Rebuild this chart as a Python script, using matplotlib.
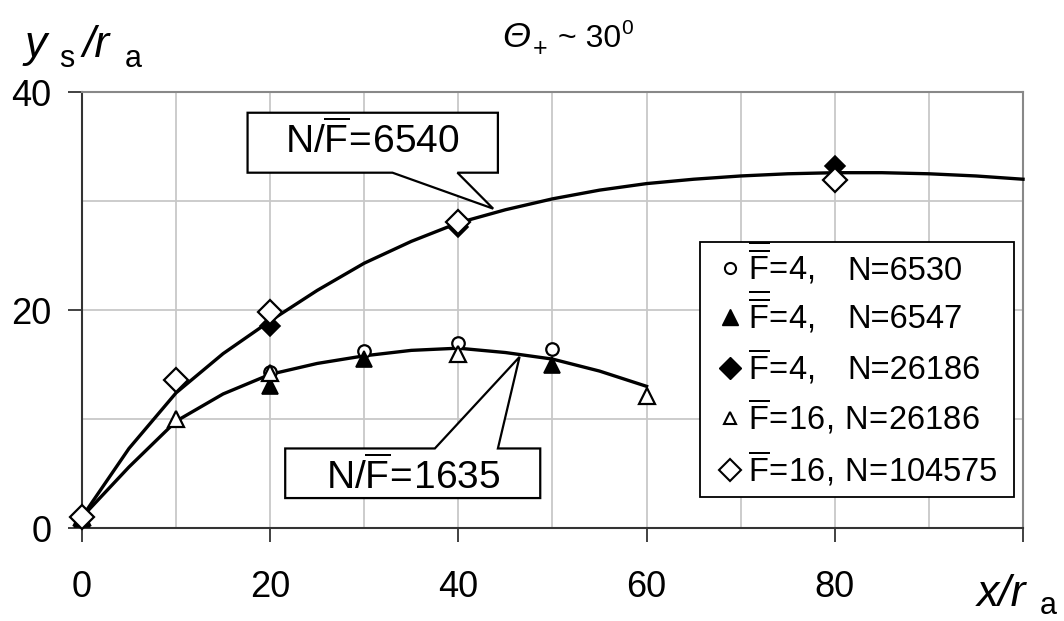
import matplotlib
matplotlib.use("Agg")
import matplotlib.pyplot as plt
from matplotlib.patches import Polygon, Rectangle

plt.rcParams['font.family'] = ['Liberation Sans', 'DejaVu Sans']
plt.rcParams['mathtext.fontset'] = 'custom'
plt.rcParams['mathtext.rm'] = 'Liberation Sans'
plt.rcParams['mathtext.it'] = 'Liberation Sans:italic'
plt.rcParams['mathtext.bf'] = 'Liberation Sans:bold'

# ---- data ----
curve_hi_x = [0, 5, 10, 15, 20, 25, 30, 35, 40, 45, 50, 55, 60, 65, 70, 75, 80, 85, 90, 95, 100]
curve_hi_y = [1.0, 7.3, 12.4, 16.0, 19.0, 21.8, 24.3, 26.3, 28.0, 29.2, 30.2, 31.0, 31.6, 32.0,
              32.3, 32.5, 32.6, 32.6, 32.5, 32.3, 32.0]
curve_lo_x = [0, 5, 10, 15, 20, 25, 30, 35, 40, 45, 50, 55, 60]
curve_lo_y = [1.0, 5.6, 9.8, 12.3, 14.1, 15.1, 15.8, 16.3, 16.5, 16.1, 15.5, 14.4, 13.0]

s1_x = [0, 20, 30, 40, 50]          # F=4, N=6530 (open circle)
s1_y = [1.0, 14.3, 16.2, 17.0, 16.4]
s2_x = [0, 20, 30, 50]              # F=4, N=6547 (filled triangle)
s2_y = [0.8, 13.0, 15.5, 15.0]
s3_x = [0, 20, 40, 80]              # F=4, N=26186 (filled diamond)
s3_y = [1.0, 18.5, 27.6, 33.2]
s4_x = [0, 10, 20, 40, 60]          # F=16, N=26186 (open triangle)
s4_y = [1.0, 10.0, 14.2, 16.0, 12.1]
s5_x = [0, 10, 20, 40, 80]          # F=16, N=104575 (open diamond)
s5_y = [1.0, 13.6, 19.8, 28.1, 31.9]

legend_F = [r"$\overline{\overline{\mathrm{F}}}\!=\!\mathrm{4,}$",
            r"$\overline{\overline{\mathrm{F}}}\!=\!\mathrm{4,}$",
            r"$\overline{\mathrm{F}}\!=\!\mathrm{4,}$",
            r"$\overline{\mathrm{F}}\!=\!\mathrm{16,}\!\ \mathrm{N}\!=\!\mathrm{26186}$",
            r"$\overline{\mathrm{F}}\!=\!\mathrm{16,}\!\ \mathrm{N}\!=\!\mathrm{104575}$"]
legend_N = ["N=6530", "N=6547", "N=26186", "", ""]
label_hi = r"$\mathrm{N/}\overline{\mathrm{F}}\!=\!\mathrm{6540}$"
label_lo = r"$\mathrm{N/}\overline{\mathrm{F}}\!=\!\mathrm{1635}$"

xticks = [0, 20, 40, 60, 80, 100]
xticklabels = ["0", "20", "40", "60", "80", ""]
yticks = [0, 20, 40]

# ---- figure ----
fig = plt.figure(figsize=(10.64, 6.21), dpi=100)
ax = fig.add_axes([0.077, 0.1497, 0.8845, 0.7021])
ax.set_xlim(0, 100)
ax.set_ylim(0, 40)

ax.set_xticks(xticks)
ax.set_xticklabels(xticklabels)
ax.set_yticks(yticks)
ax.set_xticks(range(10, 100, 20), minor=True)
ax.set_yticks([10, 30], minor=True)
ax.tick_params(axis='x', which='major', direction='out', length=10, width=1.3,
               labelsize=26, pad=20, color='#333333')
ax.tick_params(axis='y', which='major', direction='out', length=10, width=1.3,
               labelsize=26, pad=12, color='#333333')
ax.tick_params(axis='both', which='minor', length=0)
ax.grid(True, which='both', color='#c8c8c8', linewidth=1.3)
ax.set_axisbelow(True)
for s in ['left', 'bottom']:
    ax.spines[s].set_color('#333333')
    ax.spines[s].set_linewidth(1.5)
for s in ['top', 'right']:
    ax.spines[s].set_color('#888888')
    ax.spines[s].set_linewidth(1.5)

# curves
ax.plot(curve_hi_x, curve_hi_y, color='black', lw=2.4, zorder=3, clip_on=False)
ax.plot(curve_lo_x, curve_lo_y, color='black', lw=2.4, zorder=3)

# markers
ax.plot(s1_x, s1_y, 'o', ms=9, mfc='white', mec='black', mew=1.6, zorder=5, clip_on=False)
ax.plot(s2_x, s2_y, '^', ms=11, mfc='black', mec='black', mew=1.2, zorder=5, clip_on=False)
ax.plot(s3_x, s3_y, 'D', ms=10, mfc='black', mec='black', mew=1.2, zorder=5, clip_on=False)
ax.plot(s4_x, s4_y, '^', ms=11, mfc='white', mec='black', mew=1.6, zorder=6, clip_on=False)
ax.plot(s5_x, s5_y, 'D', ms=12, mfc='white', mec='black', mew=1.6, zorder=6, clip_on=False)

# callouts (upper: pointer from bottom edge; lower: pointer from top edge)
pts_hi = [(17.6, 32.6), (33.0, 32.6), (43.7, 29.3), (39.9, 32.6), (44.2, 32.6),
          (44.2, 38.1), (17.6, 38.1)]
ax.add_patch(Polygon(pts_hi, closed=True, facecolor='white', edgecolor='black', lw=1.6, zorder=8))
ax.text(30.9, 34.4, label_hi, ha='center', va='baseline', fontsize=28, zorder=9)

pts_lo = [(21.6, 2.75), (48.7, 2.75), (48.7, 7.3), (44.2, 7.3), (46.5, 15.7),
          (37.5, 7.3), (21.6, 7.3)]
ax.add_patch(Polygon(pts_lo, closed=True, facecolor='white', edgecolor='black', lw=1.6, zorder=8))
ax.text(35.2, 3.6, label_lo, ha='center', va='baseline', fontsize=28, zorder=9)

# legend
ax.add_patch(Rectangle((0.657, 0.071), 0.333, 0.585, transform=ax.transAxes,
                       facecolor='white', edgecolor='black', lw=1.3, zorder=10))
leg_y = [0.596, 0.484, 0.367, 0.252, 0.133]
leg_styles = [dict(marker='o', ms=8, mfc='white', mec='black', mew=1.5),
              dict(marker='^', ms=11, mfc='black', mec='black', mew=1.0),
              dict(marker='D', ms=11, mfc='black', mec='black', mew=1.0),
              dict(marker='^', ms=9, mfc='white', mec='black', mew=1.5),
              dict(marker='D', ms=11, mfc='white', mec='black', mew=1.5)]
for yy, st, tf, tn in zip(leg_y, leg_styles, legend_F, legend_N):
    ax.plot([0.689], [yy], transform=ax.transAxes, ls='none', zorder=11, clip_on=False, **st)
    ax.text(0.708, yy - 0.026, tf, transform=ax.transAxes, fontsize=23.5, va='baseline',
            ha='left', zorder=11)
    if tn:
        ax.text(0.813, yy - 0.026, tn, transform=ax.transAxes, fontsize=23.5, va='baseline',
                ha='left', zorder=11)

# title
fig.text(0.472, 0.924, "\u0398", fontsize=26, style='italic', ha='left', va='baseline')
fig.text(0.501, 0.910, "+", fontsize=18, ha='left', va='baseline')
fig.text(0.524, 0.924, "~ 30", fontsize=23, ha='left', va='baseline')
fig.text(0.584, 0.946, "0", fontsize=15, ha='left', va='baseline')

# axis labels
fig.text(0.023, 0.908, "y", fontsize=32, style='italic', ha='left', va='baseline')
fig.text(0.056, 0.892, "s", fontsize=22, ha='left', va='baseline')
fig.text(0.078, 0.908, "/r", fontsize=32, style='italic', ha='left', va='baseline')
fig.text(0.117, 0.892, "a", fontsize=22, ha='left', va='baseline')

fig.text(0.918, 0.024, "x/r", fontsize=32, style='italic', ha='left', va='baseline')
fig.text(0.977, 0.012, "a", fontsize=22, ha='left', va='baseline')

fig.savefig("out.png", dpi=100)
